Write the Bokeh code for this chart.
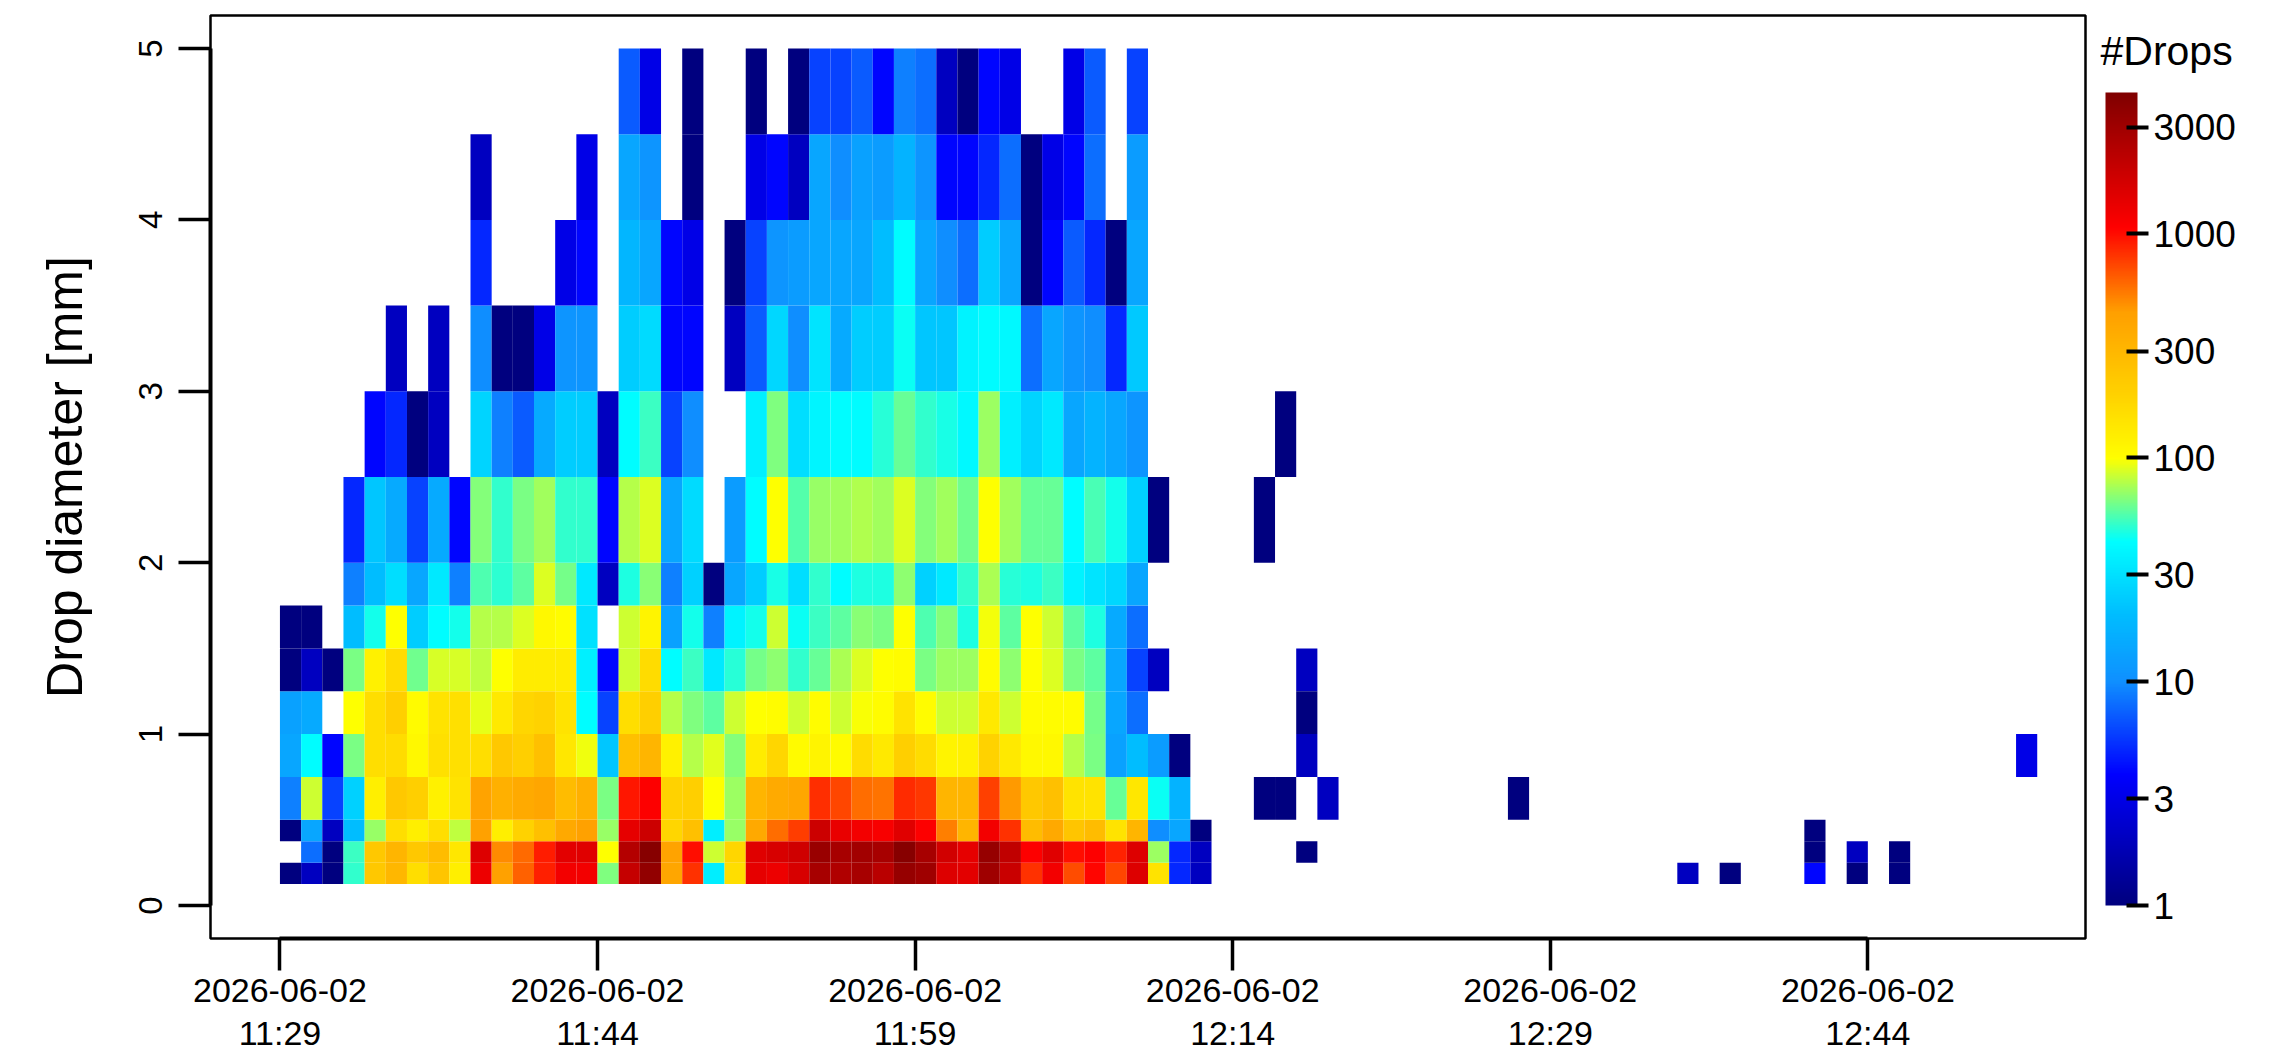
import numpy as np
from bokeh.plotting import figure
from bokeh.embed import file_html
from bokeh.resources import INLINE
from bokeh.models import (ColumnDataSource, ColorBar, LogColorMapper, FixedTicker, Range1d,
                          BasicTickFormatter, LinearAxis)
from bokeh.transform import transform

FONT = "Liberation Sans"

# time axis: minutes after the first tick
tick_minutes = [0, 15, 30, 45, 60, 75]
tick_dates = ["2026-06-02"] * 6
tick_times = ["11:29", "11:44", "11:59", "12:14", "12:29", "12:44"]
y_ticks = [0, 1, 2, 3, 4, 5]
bar_ticks = [1, 3, 10, 30, 100, 300, 1000, 3000]

# diameter bin edges (mm)
d_low = [0.125, 0.25, 0.375, 0.5, 0.75, 1.0, 1.25, 1.5, 1.75, 2.0, 2.5, 3.0, 3.5, 4.0, 4.5]
d_high = [0.25, 0.375, 0.5, 0.75, 1.0, 1.25, 1.5, 1.75, 2.0, 2.5, 3.0, 3.5, 4.0, 4.5, 5.0]

# drops per minute, one list per diameter bin, minute 0 onward (0 = no drops)
bin00 = [1,2,1,50,230,300,160,240,125,1300,440,630,900,1200,1200,65,2000,3500,400,820,35,160,1400,1300,1650,2800,2500,2800,2300,3300,3000,1550,1450,3000,1900,820,1200,700,1050,730,1550,150,5,2]
bin01 = [0,8,1,52,230,310,230,280,140,1550,500,600,920,1450,1500,100,2400,3900,420,1000,85,180,1500,1650,1800,3200,2800,2900,2800,3900,2800,1750,1400,3300,2100,1100,1500,1000,1100,880,1550,72,5,2]
bin02 = [1,14,2,20,70,160,125,160,80,440,125,190,260,380,440,70,1400,1850,180,260,35,70,380,590,760,1850,1350,1200,1150,1500,1100,530,310,1200,820,280,380,240,280,150,310,10,14,1]
bin03 = [9,85,6,25,125,230,200,120,150,420,340,370,400,280,340,64,950,1100,190,200,100,72,310,370,400,830,730,590,570,850,790,310,310,750,460,230,260,150,150,60,140,44,17,0]
bin04 = [14,42,4,64,160,165,110,155,155,160,230,200,260,140,95,22,260,310,120,78,90,66,130,180,105,115,105,165,135,200,165,115,120,190,135,110,110,78,64,13,20,12,1,0]
bin05 = [13,15,0,100,160,200,105,150,155,92,135,180,190,150,42,6,160,200,78,65,58,85,100,102,85,102,85,98,103,150,103,85,85,135,85,103,103,103,63,14,8,0,0,0]
bin06 = [1,2,1,64,120,165,62,87,87,80,100,130,130,130,36,4,85,165,42,52,33,48,63,68,50,60,75,88,100,102,64,72,72,102,68,100,88,64,58,14,6,2,0,0]
bin07 = [1,1,0,20,45,100,24,42,45,78,78,88,110,102,30,0,85,115,13,45,9,37,45,85,44,52,58,67,64,100,55,66,47,96,58,100,85,58,47,15,8,0,0,0]
bin08 = [0,0,0,9,20,29,14,33,9,55,49,58,88,63,33,2,47,67,9,25,1,14,24,46,29,50,42,47,47,68,25,33,50,75,48,47,52,37,31,27,14,0,0,0]
bin09 = [0,0,0,5,22,15,6,15,4,66,50,64,73,50,50,4,78,88,14,28,0,12,42,100,56,70,73,76,73,88,66,73,62,100,73,60,60,42,54,45,25,1,0,0]
bin10 = [0,0,0,0,4,5,1,2,0,26,9,7,15,24,24,2,42,52,6,10,0,0,36,65,29,38,42,41,48,60,50,46,40,72,36,26,33,14,17,14,11,0,0,0]
bin11 = [0,0,0,0,0,2,0,2,0,10,1,1,3,11,11,0,24,28,4,4,0,2,7,27,10,31,15,24,24,44,22,22,37,41,40,8,14,11,10,5,23,0,0,0]
bin12 = [0,0,0,0,0,0,0,0,0,5,0,0,0,3,4,0,18,14,4,3,0,1,6,11,12,14,14,14,20,42,14,10,8,24,14,1,4,7,5,1,14,0,0,0]
bin13 = [0,0,0,0,0,0,0,0,0,2,0,0,0,0,3,0,14,11,0,1,0,0,3,4,2,14,10,13,12,17,11,4,4,5,8,1,3,4,8,0,12,0,0,0]
bin14 = [0,0,0,0,0,0,0,0,0,0,0,0,0,0,0,0,7,3,0,1,0,0,1,0,1,6,6,7,4,9,8,2,1,4,3,0,0,3,7,0,6,0,0,0]
bins = [bin00, bin01, bin02, bin03, bin04, bin05, bin06, bin07, bin08, bin09, bin10, bin11, bin12, bin13, bin14]

# isolated later minutes
late_minute = [47, 46, 48, 48, 48, 46, 47, 49, 58, 48, 66, 68, 72, 72, 72, 74, 74, 76, 76, 82]
late_bin    = [10,  9,  6,  5,  4,  3,  3,  3,  3,  1,  0,  0,  0,  1,  2,  0,  1,  0,  1,  4]
late_count  = [ 1,  1,  2,  1,  2,  1,  1,  2,  1,  1,  2,  1,  4,  1,  1,  1,  2,  1,  1,  3]

# colour ramp of the scale (position along the log scale, colour)
ramp_pos = [0.0, 0.16, 0.275, 0.36, 0.448, 0.55, 0.62, 0.73, 0.835, 1.0]
ramp_r = [0, 0, 16, 0, 0, 255, 255, 255, 255, 128]
ramp_g = [0, 0, 144, 191, 255, 255, 215, 160, 0, 0]
ramp_b = [127, 255, 255, 255, 255, 0, 0, 0, 0, 0]
count_low, count_high = 1, 4285

t = np.linspace(0, 1, 512)
palette = ["#%02x%02x%02x" % (int(r), int(g), int(b)) for r, g, b in
           zip(np.interp(t, ramp_pos, ramp_r), np.interp(t, ramp_pos, ramp_g), np.interp(t, ramp_pos, ramp_b))]
mapper = LogColorMapper(palette=palette, low=count_low, high=count_high)

left, right, bottom, top, count = [], [], [], [], []
def add(minute, b, c):
    left.append(minute); right.append(minute + 1)
    bottom.append(d_low[b]); top.append(d_high[b]); count.append(c)
for b, row in enumerate(bins):
    for minute, c in enumerate(row):
        if c > 0:
            add(minute, b, c)
for minute, b, c in zip(late_minute, late_bin, late_count):
    add(minute, b, c)
source = ColumnDataSource(dict(left=left, right=right, bottom=bottom, top=top, count=count))

p = figure(width=2279, height=1050, frame_width=1875, frame_height=923,
           x_range=Range1d(-3.28, 85.28), y_range=Range1d(-0.1925, 5.1925),
           output_backend="svg", toolbar_location=None,
           min_border_left=210, min_border_top=15, min_border_bottom=112, min_border_right=194,
           background_fill_color="white", border_fill_color="white")
p.grid.visible = False
p.quad(left="left", right="right", bottom="bottom", top="top", source=source,
       fill_color=transform("count", mapper), line_color=None)

p.outline_line_color = "black"
p.outline_line_width = 2.5
p.outline_line_alpha = 1

xa = p.xaxis[0]
xa.ticker = FixedTicker(ticks=tick_minutes)
xa.major_label_overrides = {m: d + "\n" + s for m, d, s in zip(tick_minutes, tick_dates, tick_times)}
xa.bounds = (tick_minutes[0], tick_minutes[-1])
xa.axis_line_width = 4
xa.axis_line_color = "black"
xa.major_tick_line_width = 3.5
xa.major_tick_line_color = "black"
xa.major_tick_in = 0
xa.major_tick_out = 32
xa.minor_tick_line_color = None
xa.major_label_standoff = 0
xa.major_label_text_font = FONT
xa.major_label_text_font_size = "34px"
xa.major_label_text_color = "black"
xa.major_label_text_line_height = 1.15

ya = p.yaxis[0]
ya.ticker = FixedTicker(ticks=y_ticks)
ya.bounds = (y_ticks[0], y_ticks[-1])
ya.axis_line_width = 4
ya.axis_line_color = "black"
ya.major_tick_line_width = 3.5
ya.major_tick_line_color = "black"
ya.major_tick_in = 0
ya.major_tick_out = 32
ya.minor_tick_line_color = None
ya.major_label_orientation = "vertical"
ya.major_label_standoff = 16
ya.major_label_text_font = FONT
ya.major_label_text_font_size = "33px"
ya.major_label_text_color = "black"
ya.axis_label = "Drop diameter [mm]"
ya.axis_label_text_font = FONT
ya.axis_label_text_font_size = "50px"
ya.axis_label_text_font_style = "normal"
ya.axis_label_text_color = "black"
ya.axis_label_standoff = 44

# "#Drops" heading: the label of an otherwise empty axis, aligned to the top of the side panel;
# the blank first line pushes the visible line down below the frame's top edge
head = LinearAxis(ticker=FixedTicker(ticks=[]), bounds=(4.99, 5.01), axis_line_color=None,
                  major_tick_line_color=None, minor_tick_line_color=None,
                  axis_label="\n#Drops", axis_label_orientation="horizontal", axis_label_align="end",
                  axis_label_standoff=15,
                  axis_label_text_font=FONT, axis_label_text_font_size="41px",
                  axis_label_text_line_height=1.55,
                  axis_label_text_font_style="normal", axis_label_text_color="black")
p.add_layout(head, "right")

bar = ColorBar(color_mapper=mapper, ticker=FixedTicker(ticks=bar_ticks), formatter=BasicTickFormatter(),
               width=32, height=813, margin=0, padding=0, location=(-130, 33),
               major_tick_in=11, major_tick_out=11, major_tick_line_color="black",
               major_tick_line_width=4, minor_tick_line_color=None, bar_line_color=None,
               border_line_color=None, background_fill_color=None, label_standoff=5,
               major_label_text_font=FONT, major_label_text_font_size="37px",
               major_label_text_color="black")
p.add_layout(bar, "right")

open("out.html", "w").write(file_html(p, INLINE))
